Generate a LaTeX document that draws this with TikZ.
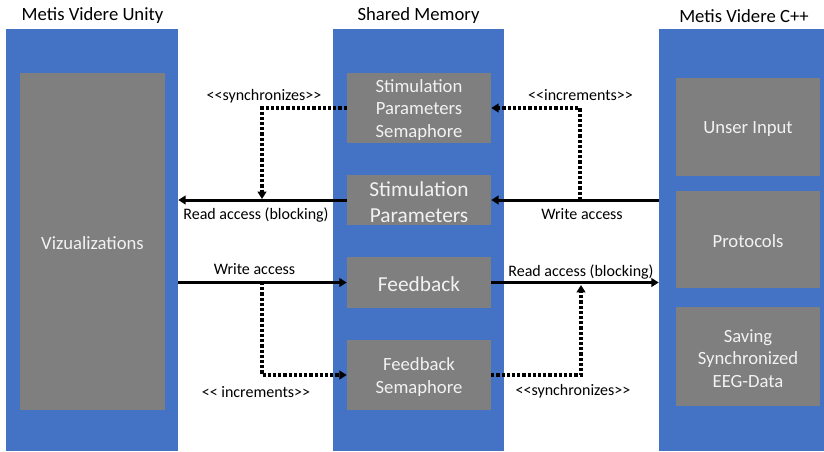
\documentclass[tikz,border=0pt]{standalone}
\usepackage{fontspec}
\setmainfont{Carlito}
\usetikzlibrary{arrows.meta,fit}
\definecolor{colblue}{HTML}{4472C4}
\definecolor{boxgray}{HTML}{7F7F7F}
\definecolor{boxtext}{HTML}{F2F2F2}
\begin{document}
\begin{tikzpicture}[x=0.75pt,y=-0.75pt,
  column/.style={fill=colblue, draw=none, inner sep=0pt},
  gbox/.style={fill=boxgray, draw=none, inner sep=0pt},
  btxt/.style={inner sep=0pt, text=boxtext, align=center, yshift=-1.4pt,
    font=\fontsize{14}{17}\selectfont},
  bbig/.style={btxt, font=\fontsize{16}{19.5}\selectfont},
  title/.style={font=\fontsize{14}{17}\selectfont, inner sep=0pt, yshift=-1.4pt},
  lbl/.style={font=\fontsize{12}{14}\selectfont, inner sep=0pt, yshift=-1.4pt},
  solidarrow/.style={line width=2.25pt, -{Triangle[length=5.5pt,width=6.5pt]}},
  dotarrow/.style={line width=2.4pt, dash pattern=on 2.4pt off 1.5pt,
    -{Triangle[length=5.5pt,width=6.5pt]}},
]
\useasboundingbox (0,0) rectangle (824,451);
% columns
\node[column, fit={(6,29) (178,451)}] (lcol) {};
\node[column, fit={(333,29) (504,451)}] (mcol) {};
\node[column, fit={(659,29) (824,451)}] (rcol) {};
% titles
\node[title] (t1) at (92.5,14) {Metis Videre Unity};
\node[title] (t2) at (418.5,14) {Shared Memory};
\node[title] (t3) at (744,14) {Metis Videre C++};
% left box
\node[gbox, fit={(20,73) (165,410)}] (viz) {};
\node[btxt] (viztext) at (viz.center) {Vizualizations};
% middle boxes
\node[gbox, fit={(347,73) (491,143)}] (sps) {};
\node[btxt] (spstext) at (sps.center) {Stimulation\\Parameters\\Semaphore};
\node[gbox, fit={(347,175) (491,225)}] (sp) {};
\node[bbig] (sptext) at (sp.center) {Stimulation\\Parameters};
\node[gbox, fit={(347,257) (491,308)}] (fb) {};
\node[bbig] (fbtext) at (fb.center) {Feedback};
\node[gbox, fit={(347,340) (491,410)}] (fs) {};
\node[btxt] (fstext) at (fs.center) {Feedback\\Semaphore};
% right boxes
\node[gbox, fit={(676,78) (820,176)}] (ui) {};
\node[btxt] (uitext) at (ui.center) {Unser Input};
\node[gbox, fit={(676,191) (820,288)}] (pr) {};
\node[btxt] (prtext) at (pr.center) {Protocols};
\node[gbox, fit={(676,307) (820,406)}] (sv) {};
\node[btxt] (svtext) at (sv.center) {Saving\\Synchronized\\EEG-Data};
% junction coordinates
\coordinate (jA) at (262,199);
\coordinate (jB) at (580,200);
\coordinate (jC) at (262,282);
\coordinate (jD) at (581,285);
% connectors
\draw[solidarrow] (sp.west) -- (sp.west -| lcol.east);
\draw[solidarrow] (rcol.west |- sp.east) -- (sp.east);
\draw[solidarrow] (lcol.east |- fb.west) -- (fb.west);
\draw[solidarrow] (fb.east) -- (fb.east -| rcol.west);
\draw[dotarrow] (sps.west) -| (jA);
\draw[dotarrow] (jB) |- (sps.east);
\draw[dotarrow] (jC) |- (fs.west);
\draw[dotarrow] (fs.east) -| (jD);
% labels
\node[lbl] (l1) at (264,94) {<{}<synchronizes>{}>};
\node[lbl] (l2) at (256,213) {Read access (blocking)};
\node[lbl] (l3) at (580.5,93) {<{}<increments>{}>};
\node[lbl] (l4) at (582,212) {Write access};
\node[lbl] (l5) at (254.5,267) {Write access};
\node[lbl] (l6) at (256,390) {<{}< increments>{}>};
\node[lbl] (l7) at (581,270) {Read access (blocking)};
\node[lbl] (l8) at (573,389) {<{}<synchronizes>{}>};
\end{tikzpicture}
\end{document}
